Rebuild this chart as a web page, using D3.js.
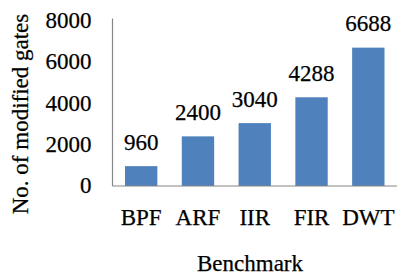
<!DOCTYPE html>
<html>
<head>
<meta charset="utf-8">
<script src="https://cdn.jsdelivr.net/npm/d3@7"></script>
<style>
  body { margin: 0; background: #fff; }
  text { font-family: "Liberation Serif", "Times New Roman", serif; fill: #000; stroke: #000; stroke-width: 0.25px; }
</style>
</head>
<body>
<svg id="chart"></svg>
<script>
  // data
  const benchmarks = ['BPF', 'ARF', 'IIR', 'FIR', 'DWT']
  const modifiedGates = [960, 2400, 3040, 4288, 6688]
  const yTicks = [0, 2000, 4000, 6000, 8000]

  const W = 400
  const H = 275
  const margin = { left: 112.5, right: 3, top: 20.5, bottom: 89 }
  const FONT = 23

  const svg = d3.select('#chart').attr('width', W).attr('height', H)

  const x = d3.scaleBand()
    .domain(benchmarks)
    .range([margin.left, W - margin.right])
    .paddingInner(0.43)
    .paddingOuter(0.22)

  const y = d3.scaleLinear()
    .domain([0, 8000])
    .range([H - margin.bottom, margin.top])

  const rows = benchmarks.map((b, i) => ({ name: b, value: modifiedGates[i] }))

  // bars
  svg.selectAll('rect.bar')
    .data(rows)
    .enter()
    .append('rect')
    .attr('class', 'bar')
    .attr('x', d => x(d.name))
    .attr('y', d => y(d.value))
    .attr('width', x.bandwidth())
    .attr('height', d => y(0) - y(d.value))
    .attr('fill', '#4f81bd')

  // value labels
  svg.selectAll('text.val')
    .data(rows)
    .enter()
    .append('text')
    .attr('class', 'val')
    .attr('x', d => x(d.name) + x.bandwidth() / 2)
    .attr('y', d => y(d.value) - 16.5)
    .attr('text-anchor', 'middle')
    .style('font-size', FONT + 'px')
    .text(d => d.value)

  // axes lines
  svg.append('line')
    .attr('x1', margin.left).attr('x2', margin.left)
    .attr('y1', y(8000) - 2).attr('y2', y(0))
    .attr('stroke', '#868686').attr('stroke-width', 1.2)
  svg.append('line')
    .attr('x1', margin.left).attr('x2', W - margin.right)
    .attr('y1', y(0)).attr('y2', y(0))
    .attr('stroke', '#868686').attr('stroke-width', 1.2)

  // y tick labels
  svg.selectAll('text.ytick')
    .data(yTicks)
    .enter()
    .append('text')
    .attr('class', 'ytick')
    .attr('x', 91.5)
    .attr('y', d => y(d) + 2)
    .attr('text-anchor', 'end')
    .attr('dominant-baseline', 'middle')
    .style('font-size', FONT + 'px')
    .text(d => d)

  // x tick labels
  svg.selectAll('text.xtick')
    .data(benchmarks)
    .enter()
    .append('text')
    .attr('class', 'xtick')
    .attr('x', d => x(d) + x.bandwidth() / 2)
    .attr('y', 224.5)
    .attr('text-anchor', 'middle')
    .style('font-size', FONT + 'px')
    .text(d => d)

  // axis titles
  svg.append('text')
    .attr('x', 250)
    .attr('y', 271)
    .attr('text-anchor', 'middle')
    .style('font-size', FONT + 'px')
    .text('Benchmark')

  svg.append('text')
    .attr('transform', 'translate(28,114) rotate(-90)')
    .attr('text-anchor', 'middle')
    .style('font-size', FONT + 'px')
    .text('No. of modified gates')
</script>
</body>
</html>
